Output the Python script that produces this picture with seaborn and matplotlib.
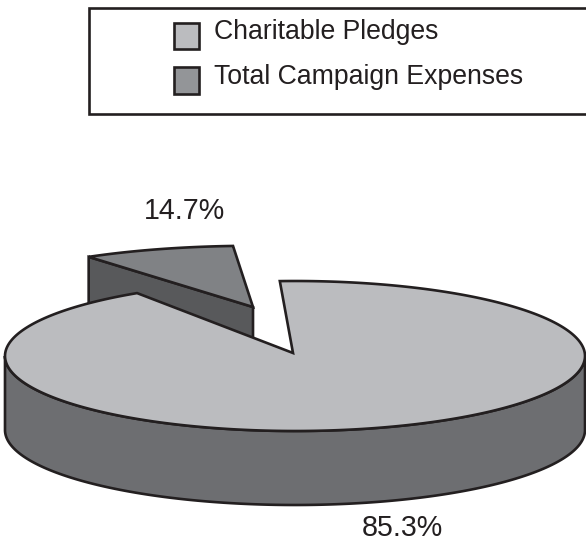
import numpy as np
import seaborn as sns
import matplotlib
matplotlib.use("Agg")
import matplotlib.pyplot as plt
from matplotlib.patches import Polygon, Patch, Rectangle
from matplotlib.legend_handler import HandlerPatch

categories = ["Charitable Pledges", "Total Campaign Expenses"]
percent = [85.3, 14.7]
# arc the artwork really gives each slice (degrees on the ellipse)
arc_start = [93, 94]
arc_sweep = [330, 31]

sns.set_theme(style="white")
plt.rcParams['font.family'] = ['Liberation Sans', 'DejaVu Sans']

top_colors = sns.color_palette(["#bbbcbf", "#808285"])
side_colors = sns.color_palette(["#6d6e71", "#58595b"])
swatch_colors = sns.color_palette(["#bbbcbf", "#939598"])
ink = "#231f20"
lw = 1.9


def arco(cx, cy, rx, ry, ini, fin):
    t = np.radians(np.linspace(ini, fin, 300))
    return np.column_stack([cx + rx * np.cos(t), cy - ry * np.sin(t)])


def pastel(ax, apex, centro, rx, ry, ini, barrido, color):
    borde = arco(centro[0], centro[1], rx, ry, ini, ini + barrido)
    pts = np.vstack([[apex], borde])
    ax.add_patch(Polygon(pts, closed=True, fc=color, ec=ink, lw=lw, joinstyle="miter"))
    return borde


fig, ax = plt.subplots(figsize=(5.86, 5.41), dpi=100)
fig.subplots_adjust(0, 0, 1, 1)
ax.set_xlim(0, 586)
ax.set_ylim(541, 0)
ax.axis("off")

# slice pulled out, drawn first because the big one covers its wall
apex = (253, 307)
arco_chico = arco(apex[0], apex[1], 286.5, 61.2, arc_start[1], arc_start[1] + arc_sweep[1])
izq = arco_chico[-1]
pared = [izq, apex, (apex[0], apex[1] + 74), (izq[0], izq[1] + 74)]
ax.add_patch(Polygon(pared, closed=True, fc=side_colors[1], ec=ink, lw=lw))
pastel(ax, apex, apex, 286.5, 61.2, arc_start[1], arc_sweep[1], top_colors[1])

# big slice: wall then top
cx, cy, rx, ry, alto = 295, 356, 290, 75, 74
frente = arco(cx, cy, rx, ry, 180, 360)
abajo = arco(cx, cy + alto, rx, ry, 360, 180)
ax.add_patch(Polygon(np.vstack([frente, abajo]), closed=True, fc=side_colors[0], ec=ink, lw=lw))
pastel(ax, (293, 353), (cx, cy), rx, ry, arc_start[0] - arc_sweep[0], arc_sweep[0], top_colors[0])

# the lower label sits right on the page edge in the original, kept just inside here
ax.text(402.5, 536.5, "%.1f%%" % percent[0], ha="center", va="baseline", fontsize=20.6, color=ink)
ax.text(184, 219, "%.1f%%" % percent[1], ha="center", va="baseline", fontsize=20.6, color=ink)

# legend box runs off the right side of the page
ax.add_patch(Rectangle((89, 8), 520, 106, fc="white", ec=ink, lw=lw, clip_on=True))
handles = [Patch(fc=swatch_colors[i], ec=ink, lw=lw, label=categories[i]) for i in range(2)]
leg = ax.legend(handles=handles, loc="upper left", bbox_to_anchor=(174, 19), bbox_transform=ax.transData,
                frameon=False, fontsize=19.2, borderpad=0, borderaxespad=0, handlelength=0.95,
                handleheight=0.42, handletextpad=0.55, labelspacing=0.7,
                handler_map={Patch: HandlerPatch(ypad=-0.48)}, labelcolor=ink)

fig.savefig("out.png", dpi=100)
